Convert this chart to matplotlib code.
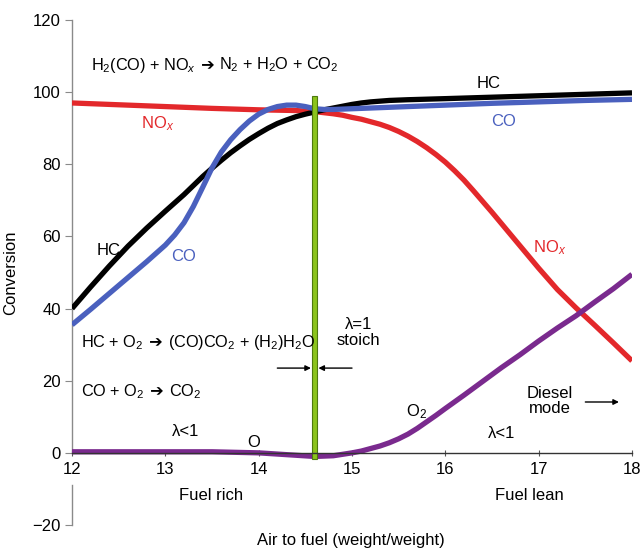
import matplotlib
matplotlib.use("Agg")
import matplotlib.pyplot as plt
from matplotlib.offsetbox import TextArea, HPacker, AnnotationBbox

plt.rcParams['font.family'] = ['Liberation Sans', 'DejaVu Sans']
plt.rcParams['mathtext.fontset'] = 'custom'
plt.rcParams['mathtext.rm'] = 'Liberation Sans'
plt.rcParams['mathtext.it'] = 'Liberation Sans:italic'

# ---- data ----
hc_x = [12, 12.2, 12.4, 12.6, 12.8, 13.0, 13.2, 13.4, 13.5, 13.6, 13.7, 13.8, 13.9, 14.0, 14.1,
        14.2, 14.3, 14.4, 14.5, 14.6, 14.7, 14.8, 14.9, 15.0, 15.1, 15.2, 15.3, 15.4, 15.6,
        16.0, 16.5, 17.0, 17.5, 18.0]
hc_y = [40, 46, 51.8, 57.3, 62.3, 67, 71.6, 76.6, 78.9, 81.1, 83.2, 85.1, 86.9, 88.5, 90.0,
        91.3, 92.3, 93.2, 93.9, 94.5, 95.1, 95.6, 96.1, 96.6, 97.0, 97.3, 97.5, 97.7, 97.9,
        98.2, 98.6, 99.0, 99.4, 99.8]

co_x = [12, 12.2, 12.4, 12.6, 12.8, 13.0, 13.1, 13.2, 13.3, 13.4, 13.5, 13.6, 13.7, 13.8, 13.9,
        14.0, 14.1, 14.2, 14.3, 14.4, 14.5, 14.6, 14.7, 14.8, 15.0, 15.5, 16.0, 16.5, 17.0, 17.5, 18.0]
co_y = [35.5, 39.8, 44.2, 48.6, 53, 57.6, 60.4, 63.8, 68.3, 73.6, 79.0, 83.4, 86.8, 89.6, 92,
        93.9, 95.2, 96, 96.4, 96.4, 96, 95.4, 95.2, 95.2, 95.4, 95.9, 96.4, 96.9, 97.3, 97.7, 98.0]

nox_x = [12, 12.5, 13, 13.5, 14, 14.4, 14.6, 14.8, 14.9, 15.0, 15.1, 15.2, 15.3, 15.4, 15.5,
         15.6, 15.7, 15.8, 15.9, 16.0, 16.1, 16.2, 16.3, 16.4, 16.5, 16.6, 16.7, 16.8, 17.0,
         17.2, 17.4, 17.6, 17.8, 18.0]
nox_y = [97, 96.5, 96, 95.5, 95.1, 94.9, 94.6, 94.0, 93.6, 93.0, 92.5, 91.8, 91.1, 90.2, 89.1,
         87.8, 86.3, 84.6, 82.7, 80.6, 78.2, 75.6, 72.7, 69.7, 66.7, 63.6, 60.5, 57.4, 51.2,
         45.3, 40.2, 35.4, 30.5, 25.5]

o2_x = [12, 13, 13.5, 14, 14.3, 14.6, 14.8, 15.0, 15.1, 15.2, 15.3, 15.4, 15.5, 15.6, 15.7,
        15.8, 15.9, 16.0, 16.2, 16.4, 16.6, 16.8, 17.0, 17.2, 17.4, 17.6, 17.8, 18.0]
o2_y = [0.3, 0.3, 0.3, 0.0, -0.5, -1.0, -0.8, 0.0, 0.5, 1.2, 1.9, 2.8, 3.9, 5.2, 6.8,
        8.6, 10.4, 12.3, 16.0, 19.8, 23.6, 27.2, 31.0, 34.6, 38.0, 41.8, 45.5, 49.5]

stoich_x = 14.6
stoich_top = 98.8
stoich_bottom = -1.7

x_ticks = [12, 13, 14, 15, 16, 17, 18]
y_ticks = [-20, 0, 20, 40, 60, 80, 100, 120]

# ---- figure ----
fig = plt.figure(figsize=(6.43, 5.49), dpi=100)
ax = fig.add_axes([72/643, 1 - 525/549, (632 - 72)/643, (525 - 20)/549])
ax.set_xlim(12, 18)
ax.set_ylim(-20, 120)

black = '#000000'
blue = '#4a60be'
red = '#e3282b'
purple = '#7a2a8e'
green = '#8cc41c'

lw = 3.8
kw = dict(lw=lw, solid_capstyle='butt', solid_joinstyle='round')
ax.plot(nox_x, nox_y, color=red, zorder=3, **kw)
ax.plot(hc_x, hc_y, color=black, zorder=4, **kw)
ax.plot(co_x, co_y, color=blue, zorder=5, **kw)
ax.plot(o2_x, o2_y, color=purple, zorder=3, **kw)

ax.bar([stoich_x], [stoich_top - stoich_bottom], bottom=stoich_bottom, width=0.058,
       color=green, edgecolor='#4e7a10', linewidth=0.8, zorder=6)

# spines
for s in ['top', 'right']:
    ax.spines[s].set_visible(False)
ax.spines['bottom'].set_position(('data', 0))
ax.spines['bottom'].set_color('#333333')
ax.spines['bottom'].set_linewidth(1.0)
ax.spines['bottom'].set_zorder(7)
ax.spines['left'].set_bounds(0, 120)
ax.spines['left'].set_color('#8a8a8a')
ax.spines['left'].set_linewidth(1.0)
ax.axvline(12, ymin=0, ymax=11/140, color='#8a8a8a', lw=1.0, clip_on=False)

ax.set_xticks(x_ticks)
ax.set_xticklabels([str(v) for v in x_ticks])
ax.set_yticks(y_ticks)
ax.set_yticklabels(['\u221220' if v < 0 else str(v) for v in y_ticks])
ax.tick_params(axis='x', direction='inout', length=5, width=0.8, color='#555555',
               labelsize=12, pad=4)
ax.tick_params(axis='y', direction='out', length=5, width=0.8, color='#8a8a8a',
               labelsize=12, pad=3)

ax.set_ylabel('Conversion', fontsize=12, labelpad=10)
fig.text(351/643, 1 - 540/549, 'Air to fuel (weight/weight)', fontsize=12,
         ha='center', va='center')

fs = 12
efs = 11.7


def equation(parts, x, y):
    kids = []
    for txt, fam in parts:
        tp = dict(fontsize=efs, color='black')
        if fam:
            tp['family'] = fam
        kids.append(TextArea(txt, textprops=tp))
    box = HPacker(children=kids, align='baseline', pad=0, sep=0)
    ab = AnnotationBbox(box, (x, y), xycoords='data', box_alignment=(0, 0.5),
                        frameon=False, pad=0, zorder=8)
    ax.add_artist(ab)


arrow = ' \u2794 '
equation([('H$_2$(CO) + NO$_x$', None), (arrow, 'DejaVu Sans'),
          ('N$_2$ + H$_2$O + CO$_2$', None)], 12.2, 107.5)
equation([('HC + O$_2$', None), (arrow, 'DejaVu Sans'),
          ('(CO)CO$_2$ + (H$_2$)H$_2$O', None)], 12.1, 30.5)
equation([('CO + O$_2$', None), (arrow, 'DejaVu Sans'),
          ('CO$_2$', None)], 12.1, 17.0)

ax.text(12.92, 91.2, 'NO$_x$', color=red, fontsize=fs, ha='center', va='center')
ax.text(16.46, 102.3, 'HC', color=black, fontsize=fs, ha='center', va='center')
ax.text(16.62, 91.8, 'CO', color=blue, fontsize=fs, ha='center', va='center')
ax.text(12.39, 56.2, 'HC', color=black, fontsize=fs, ha='center', va='center')
ax.text(13.2, 54.5, 'CO', color=blue, fontsize=fs, ha='center', va='center')
ax.text(17.12, 57.0, 'NO$_x$', color=red, fontsize=fs, ha='center', va='center')
ax.text(15.07, 33.3, '\u03bb=1\nstoich', fontsize=fs, ha='center', va='center',
        linespacing=1.1)
ax.annotate('', xy=(stoich_x - 0.04, 23.5), xytext=(14.2, 23.5),
            arrowprops=dict(arrowstyle='-|>', color='black', lw=1.0,
                            mutation_scale=8, shrinkA=0, shrinkB=0))
ax.annotate('', xy=(stoich_x + 0.04, 23.5), xytext=(15.0, 23.5),
            arrowprops=dict(arrowstyle='-|>', color='black', lw=1.0,
                            mutation_scale=8, shrinkA=0, shrinkB=0))
ax.text(15.69, 11.5, 'O$_2$', fontsize=fs, ha='center', va='center')
ax.text(13.22, 5.8, '\u03bb<1', fontsize=fs, ha='center', va='center')
ax.text(16.6, 5.3, '\u03bb<1', fontsize=fs, ha='center', va='center')
ax.text(13.95, 2.9, 'O', fontsize=fs, ha='center', va='center')
ax.text(17.12, 14.5, 'Diesel\nmode', fontsize=fs, ha='center', va='center',
        linespacing=1.0)
ax.annotate('', xy=(17.86, 14.1), xytext=(17.5, 14.1),
            arrowprops=dict(arrowstyle='-|>', color='black', lw=1.0,
                            mutation_scale=8, shrinkA=0, shrinkB=0))
ax.text(13.49, -11.7, 'Fuel rich', fontsize=fs, ha='center', va='center')
ax.text(16.9, -11.7, 'Fuel lean', fontsize=fs, ha='center', va='center')

fig.savefig('out.png', dpi=100)
